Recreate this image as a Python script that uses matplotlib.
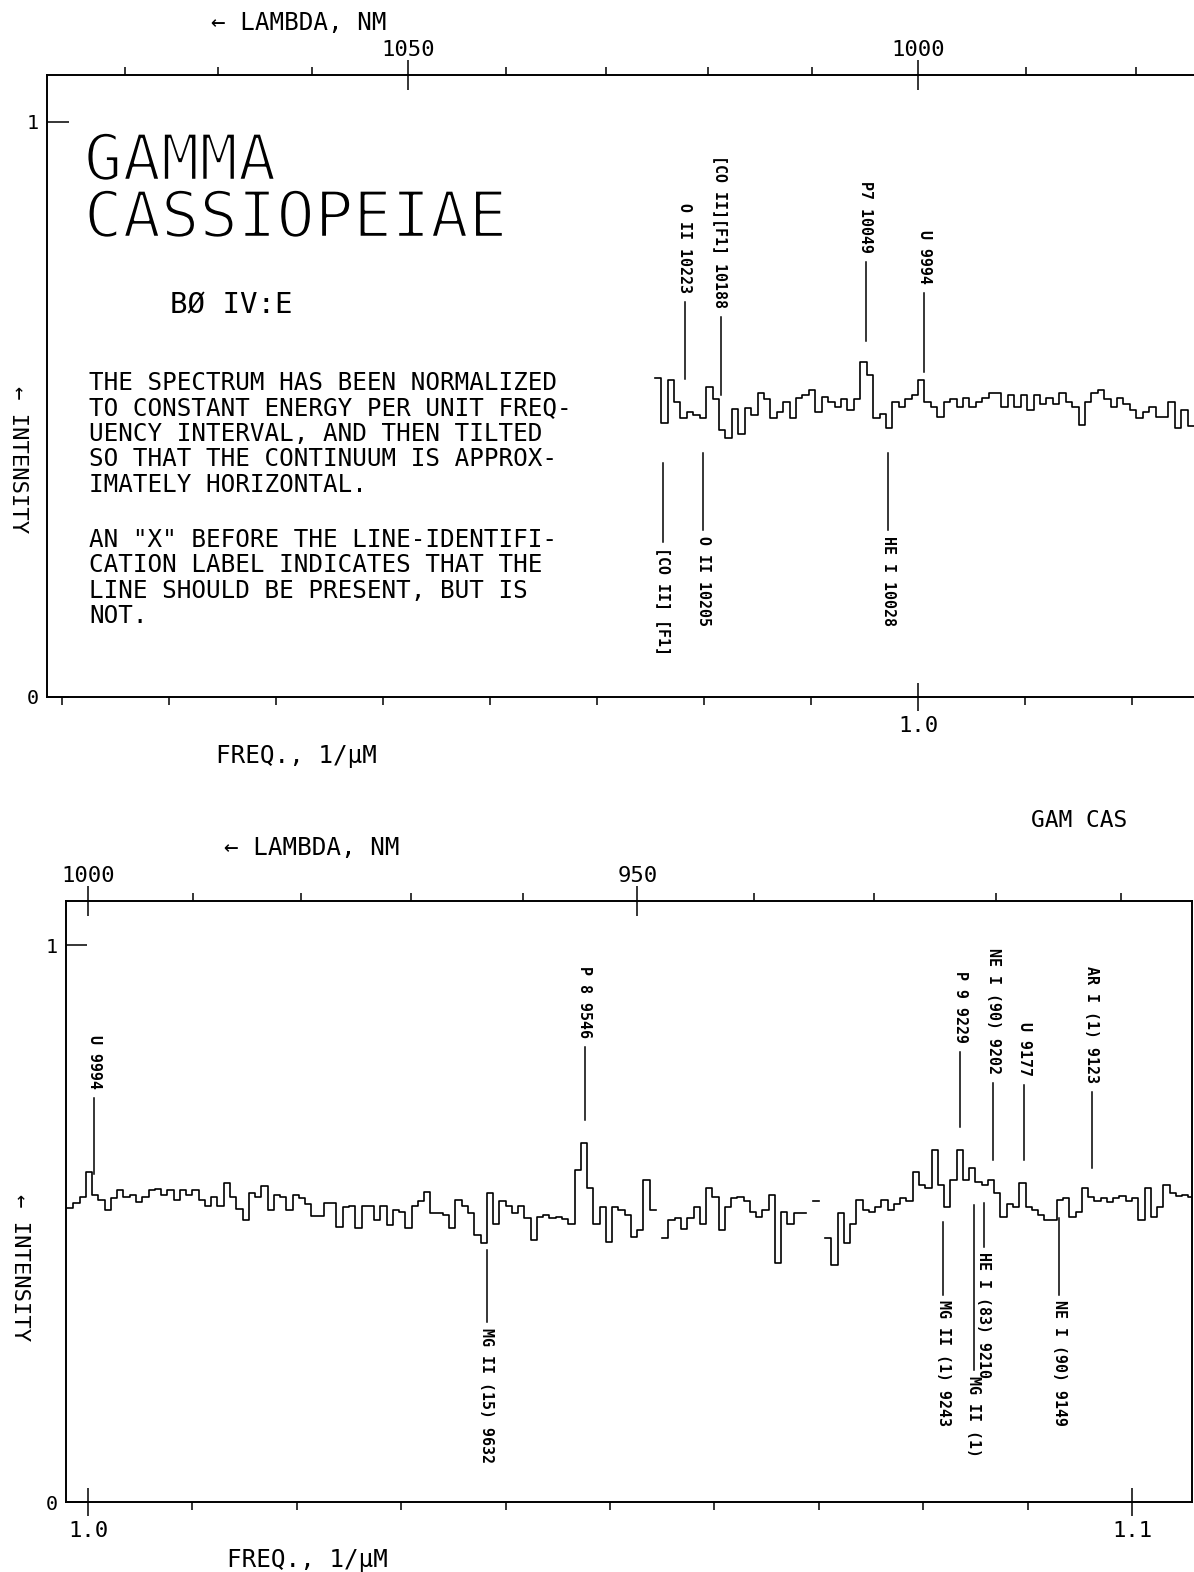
import numpy as np
import matplotlib
matplotlib.use("Agg")
import matplotlib.pyplot as plt
import matplotlib.patheffects as pe
from matplotlib.ticker import FixedLocator

plt.rcParams['font.family'] = ['DejaVu Sans Mono']

W, H = 1194, 1572

# --- spectrum, binned in frequency (1/um) ---
bin_width = 0.0006

top_start = 0.9754
top_flux = [
    0.555, 0.477, 0.551, 0.513, 0.485, 0.496, 0.490, 0.485, 0.539, 0.519,
    0.464, 0.450, 0.500, 0.458, 0.502, 0.490, 0.528, 0.519, 0.485, 0.496,
    0.513, 0.485, 0.520, 0.525, 0.534, 0.496, 0.522, 0.513, 0.505, 0.519,
    0.499, 0.519, 0.583, 0.560, 0.485, 0.493, 0.468, 0.513, 0.505, 0.519,
    0.525, 0.551, 0.513, 0.505, 0.487, 0.513, 0.519, 0.505, 0.520, 0.505,
    0.513, 0.520, 0.528, 0.528, 0.505, 0.525, 0.505, 0.525, 0.499, 0.525,
    0.510, 0.520, 0.510, 0.528, 0.513, 0.505, 0.473, 0.513, 0.528, 0.534,
    0.519, 0.505, 0.520, 0.510, 0.499, 0.485, 0.496, 0.505, 0.487, 0.487,
    0.513, 0.468, 0.499, 0.471,
]

nan = np.nan
bottom_start = 0.9980
bottom_flux = [
    0.528, 0.537, 0.548, 0.592, 0.551, 0.542, 0.524, 0.545, 0.560, 0.548,
    0.551, 0.538, 0.548, 0.560, 0.562, 0.551, 0.560, 0.542, 0.560, 0.551,
    0.560, 0.542, 0.531, 0.548, 0.531, 0.573, 0.548, 0.526, 0.506, 0.554,
    0.548, 0.567, 0.524, 0.551, 0.548, 0.524, 0.551, 0.545, 0.535, 0.514,
    0.514, 0.537, 0.537, 0.494, 0.530, 0.531, 0.492, 0.531, 0.531, 0.506,
    0.531, 0.497, 0.524, 0.521, 0.492, 0.531, 0.540, 0.557, 0.518, 0.518,
    0.515, 0.492, 0.542, 0.531, 0.518, 0.480, 0.465, 0.554, 0.500, 0.540,
    0.531, 0.518, 0.531, 0.510, 0.470, 0.512, 0.515, 0.510, 0.512, 0.508,
    0.500, 0.596, 0.645, 0.564, 0.500, 0.530, 0.467, 0.530, 0.524, 0.515,
    0.476, 0.488, 0.578, 0.524, nan, 0.474, 0.506, 0.510, 0.490, 0.510,
    0.530, 0.500, 0.564, 0.548, 0.488, 0.530, 0.545, 0.548, 0.540, 0.520,
    0.512, 0.524, 0.551, 0.429, 0.520, 0.500, 0.519, 0.519, nan, 0.540,
    nan, 0.474, 0.425, 0.519, 0.465, 0.500, 0.542, 0.525, 0.520, 0.530,
    0.542, 0.525, 0.535, 0.545, 0.540, 0.593, 0.569, 0.564, 0.632, 0.569,
    0.530, 0.578, 0.632, 0.578, 0.600, 0.575, 0.569, 0.578, 0.555, 0.512,
    0.535, 0.530, 0.573, 0.530, 0.524, 0.515, 0.506, 0.506, 0.542, 0.545,
    0.512, 0.520, 0.564, 0.548, 0.540, 0.545, 0.538, 0.545, 0.550, 0.540,
    0.545, 0.506, 0.564, 0.512, 0.530, 0.569, 0.555, 0.550, 0.552, 0.548,
]

# line identifications: label, wavelength (A), tick end near spectrum, far end
top_lines = [
    ("O II 10223", 10223, 0.553, 0.687),
    ("[CO II][F1] 10188", 10188, 0.525, 0.661),
    ("P7 10049", 10049, 0.619, 0.757),
    ("U 9994", 9994, 0.565, 0.703),
    ("[CO II] [F1]", 10244, 0.407, 0.270),
    ("O II 10205", 10205, 0.424, 0.290),
    ("HE I 10028", 10028, 0.424, 0.290),
]
bottom_lines = [
    ("U 9994", 9994, 0.589, 0.725),
    ("P 8 9546", 9546, 0.686, 0.817),
    ("P 9 9229", 9229, 0.673, 0.808),
    ("NE I (90) 9202", 9202, 0.614, 0.752),
    ("U 9177", 9177, 0.614, 0.749),
    ("AR I (1) 9123", 9123, 0.600, 0.736),
    ("MG II (15) 9632", 9632, 0.452, 0.323),
    ("MG II (1) 9243", 9243, 0.503, 0.372),
    ("HE I (83) 9210", 9210, 0.537, 0.458),
    ("MG II (1)", 9218, 0.533, 0.237),
    ("NE I (90) 9149", 9149, 0.510, 0.372),
]

# axis ticks
top_freq_ticks = [0.92, 0.93, 0.94, 0.95, 0.96, 0.97, 0.98, 0.99, 1.00, 1.01, 1.02]
top_freq_major = [1.00]
top_lam_ticks = [1080, 1070, 1060, 1050, 1040, 1030, 1020, 1010, 1000, 990, 980]
top_lam_major = [1050, 1000]

bottom_freq_ticks = [1.00, 1.01, 1.02, 1.03, 1.04, 1.05, 1.06, 1.07, 1.08, 1.09, 1.10]
bottom_freq_major = [1.00, 1.10]
bottom_lam_ticks = [1000, 990, 980, 970, 960, 950, 940, 930, 920, 910]
bottom_lam_major = [1000, 950]


def px_rect(left, top, right, bottom):
    return [left / W, 1 - bottom / H, (right - left) / W, (bottom - top) / H]


def draw_spectrum(ax, start, flux):
    flux = np.asarray(flux, dtype=float)
    edges = start + bin_width * np.arange(len(flux) + 1)
    ax.step(edges, np.append(flux, flux[-1]), where='post', color='k', lw=1.2)


def draw_lines(ax, lines):
    for label, wl, near, far in lines:
        f = 1e4 / wl
        ax.plot([f, f], [near, far], color='k', lw=1.1)
        if far > near:
            ax.text(f, far + 0.016, label, rotation=-90, ha='center', va='bottom',
                    fontsize=10.8, fontweight='bold')
        else:
            ax.text(f, far - 0.010, label, rotation=-90, ha='center', va='top',
                    fontsize=10.8, fontweight='bold')


def dress(ax, freq_ticks, freq_major, lam_ticks, lam_major, ytick_len):
    ax.xaxis.set_major_locator(FixedLocator(freq_major))
    ax.set_xticklabels([f"{v:.1f}" for v in freq_major])
    ax.xaxis.set_minor_locator(FixedLocator([v for v in freq_ticks if v not in freq_major]))
    ax.tick_params(axis='x', which='major', direction='inout', length=20, width=1.1,
                   labelsize=16, pad=4)
    ax.tick_params(axis='x', which='minor', direction='out', length=5.5, width=1.1)
    ax.set_yticks([0, 1])
    ax.set_yticklabels(['0', '1'])
    ax.tick_params(axis='y', direction='in', length=ytick_len, width=1.1, labelsize=14.5, pad=6)
    for s in ax.spines.values():
        s.set_linewidth(1.4)

    top = ax.twiny()
    top.set_xlim(ax.get_xlim())
    lam_ticks = np.asarray(lam_ticks, dtype=float)
    lam_major = np.asarray(lam_major, dtype=float)
    top.xaxis.set_major_locator(FixedLocator(1000.0 / lam_major))
    top.set_xticklabels([f"{v:.0f}" for v in lam_major])
    top.xaxis.set_minor_locator(FixedLocator(1000.0 / lam_ticks[~np.isin(lam_ticks, lam_major)]))
    top.tick_params(axis='x', which='major', direction='inout', length=21, width=1.1,
                    labelsize=16, pad=0)
    top.tick_params(axis='x', which='minor', direction='out', length=5.5, width=1.1)
    for s in top.spines.values():
        s.set_visible(False)


fig = plt.figure(figsize=(W / 100, H / 100), dpi=100)


def put(x, y, s, **kw):
    fig.text(x / W, 1 - y / H, s, **kw)


# upper panel
ax1 = fig.add_axes(px_rect(47, 75, 1194, 697))
ax1.set_xlim(0.91860, 1.02579)
ax1.set_ylim(0, 1.0817)
ax1.spines['right'].set_visible(False)
draw_spectrum(ax1, top_start, top_flux)
draw_lines(ax1, top_lines)
dress(ax1, top_freq_ticks, top_freq_major, top_lam_ticks, top_lam_major, 16)

# lower panel
ax2 = fig.add_axes(px_rect(66, 901, 1192, 1502))
ax2.set_xlim(0.997893, 1.105747)
ax2.set_ylim(0, 1.0790)
draw_spectrum(ax2, bottom_start, bottom_flux)
draw_lines(ax2, bottom_lines)
dress(ax2, bottom_freq_ticks, bottom_freq_major, bottom_lam_ticks, bottom_lam_major, 15)

# axis captions
put(211, 30, "\u2190 LAMBDA, NM", fontsize=17.5, va='baseline')
put(224, 855, "\u2190 LAMBDA, NM", fontsize=17.5, va='baseline')
put(216, 763, "FREQ., 1/\u00b5M", fontsize=17.5, va='baseline')
put(227, 1567, "FREQ., 1/\u00b5M", fontsize=17.5, va='baseline')
put(18, 460, "\u2190 INTENSITY", fontsize=16, rotation=-90, ha='center', va='center')
put(20, 1268, "\u2190 INTENSITY", fontsize=16, rotation=-90, ha='center', va='center')
put(1079, 827, "GAM CAS", fontsize=16.5, ha='center', va='baseline')

# title block, drawn with a hairline stroke weight
thin = [pe.Stroke(linewidth=1.8, foreground='white')]
put(84, 180, "GAMMA", fontsize=46, va='baseline', path_effects=thin)
put(84, 237, "CASSIOPEIAE", fontsize=46, va='baseline', path_effects=thin)
put(170, 313, "B\u00d8 IV:E", fontsize=21, va='baseline')

note1 = ["THE SPECTRUM HAS BEEN NORMALIZED",
         "TO CONSTANT ENERGY PER UNIT FREQ-",
         "UENCY INTERVAL, AND THEN TILTED",
         "SO THAT THE CONTINUUM IS APPROX-",
         "IMATELY HORIZONTAL."]
note2 = ["AN \"X\" BEFORE THE LINE-IDENTIFI-",
         "CATION LABEL INDICATES THAT THE",
         "LINE SHOULD BE PRESENT, BUT IS",
         "NOT."]
for k, line in enumerate(note1):
    put(89, 390 + 25.5 * k, line, fontsize=17.5, va='baseline')
for k, line in enumerate(note2):
    put(89, 547 + 25.5 * k, line, fontsize=17.5, va='baseline')

fig.savefig("out.png", dpi=100, facecolor='white')
